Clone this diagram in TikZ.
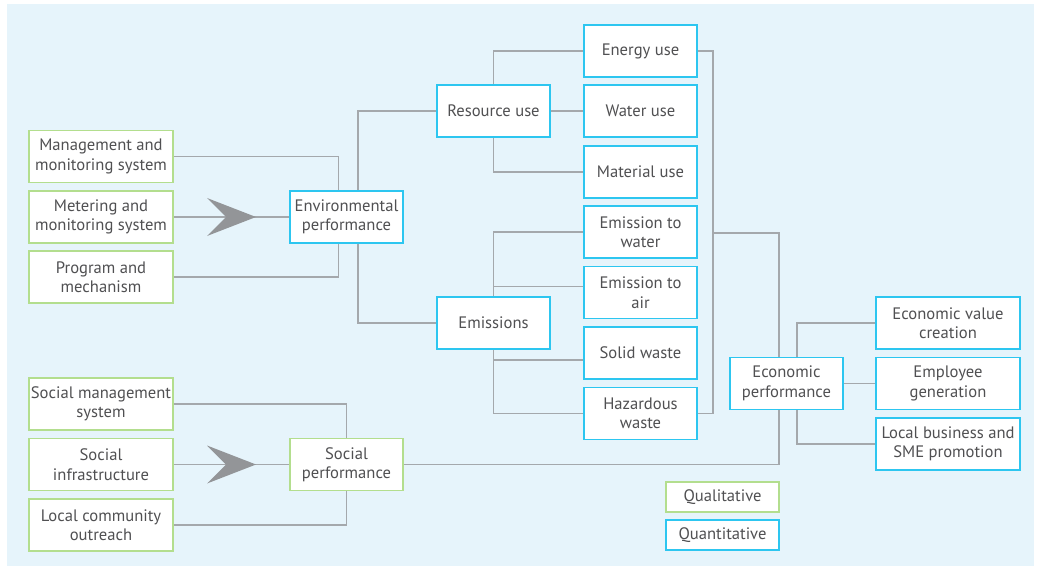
\documentclass[tikz,border=0pt]{standalone}
\usepackage{fontspec}
\setmainfont{PT Sans}
\usepackage{tikz}
\usetikzlibrary{positioning,calc,backgrounds}
\definecolor{bgblue}{HTML}{E6F4FB}
\definecolor{qualG}{HTML}{B3DE8E}
\definecolor{quantB}{HTML}{2DC6F0}
\definecolor{linkG}{HTML}{A4A8AC}
\definecolor{txtG}{HTML}{505052}
\definecolor{chevG}{HTML}{939598}

\begin{document}
\begin{tikzpicture}[x=1pt, y=-1pt,
  box/.style={draw, fill=white, line width=1.3pt, align=center, inner sep=0pt,
    minimum width=113pt, minimum height=52pt, text=txtG,
    font=\fontsize{16.6}{19.5}\selectfont},
  qual/.style={box, draw=qualG},
  quant/.style={box, draw=quantB},
  wide/.style={minimum width=144pt},
  legend/.style={minimum height=30pt},
  link/.style={draw=linkG, line width=1.3pt}]
\useasboundingbox (0,0) rectangle (1040,569);
% qualitative inputs
\node[qual, wide] (mgmt) at (101,156.5) {Management and\\monitoring system};
\node[qual, wide] (meter) at (101,217) {Metering and\\monitoring system};
\node[qual, wide] (prog) at (101,277) {Program and\\mechanism};
\node[qual, wide] (smgmt) at (101,404) {Social management\\system};
\node[qual, wide] (sinfra) at (101,464.5) {Social\\infrastructure};
\node[qual, wide] (scomm) at (101,525) {Local community\\outreach};
\node[quant] (env) at (346.5,217) {Environmental\\performance};
\node[qual] (social) at (346.5,464.5) {Social\\performance};
% environmental tree
\node[quant] (res) at (493.5,111) {Resource use};
\node[quant] (emis) at (493.5,323) {Emissions};
\foreach \nm/\yy/\lab in {energy/51/{Energy use}, water/111/{Water use},
    material/172/{Material use}, ewater/232/{Emission to\\water},
    eair/292.5/{Emission to\\air}, solid/353/{Solid waste},
    hazard/413.5/{Hazardous\\waste}}
  \node[quant] (\nm) at (640.5,\yy) {\lab};
% economic tree
\node[quant] (econ) at (786.5,383.5) {Economic\\performance};
\node[quant, wide] (evalue) at (948,323) {Economic value\\creation};
\node[quant, wide] (employee) at (948,383.5) {Employee\\generation};
\node[quant, wide] (local) at (948,444) {Local business and\\SME promotion};
% legend
\node[qual, legend] (legqual) at (722.5,497) {Qualitative};
\node[quant, legend] (legquant) at (722.5,535) {Quantitative};
\coordinate (envbus) at (358,217);
\coordinate (rbus) at (713,233);
\coordinate (ebus) at (779,233);
\coordinate (envtip) at (256,217);
\coordinate (soctip) at (256,464.5);
\begin{scope}[on background layer]
\fill[bgblue] (7,4) rectangle (1034,566);
\draw[link] (mgmt.east) -| ($(env.north)+(-8,0)$);
\draw[link] (prog.east) -| ($(env.south)+(-8,0)$);
\draw[link] (meter.east) -- (env.west);
\draw[link] (smgmt.east) -| (social.north);
\draw[link] (scomm.east) -| (social.south);
\draw[link] (sinfra.east) -- (social.west);
\draw[link] (res.west) -| (envbus) |- (emis.west);
\draw[link] (res.north) |- (energy.west);
\draw[link] (res.east) -- (water.west);
\draw[link] (res.south) |- (material.west);
\draw[link] (ewater.west) -| (emis.center) |- (hazard.west);
\draw[link] ($(eair.west)+(0,-6)$) -| (emis.center);
\draw[link] ($(solid.west)+(0,7)$) -| (emis.center);
\draw[link] (energy.east) -| (rbus) |- (hazard.east);
\draw[link] (rbus) -- (ebus) |- (social.east);
\draw[link] (evalue.west) -| ($(econ.center)+(10.5,0)$) |- (local.west);
\draw[link] (econ.east) -- (employee.west);
\end{scope}
% arrow heads
\fill[chevG] (envtip) -- ++(-49,-19) -- ++(19,19) -- ++(-19,19) -- cycle;
\fill[chevG] (soctip) -- ++(-49,-19) -- ++(19,19) -- ++(-19,19) -- cycle;
\end{tikzpicture}
\end{document}
